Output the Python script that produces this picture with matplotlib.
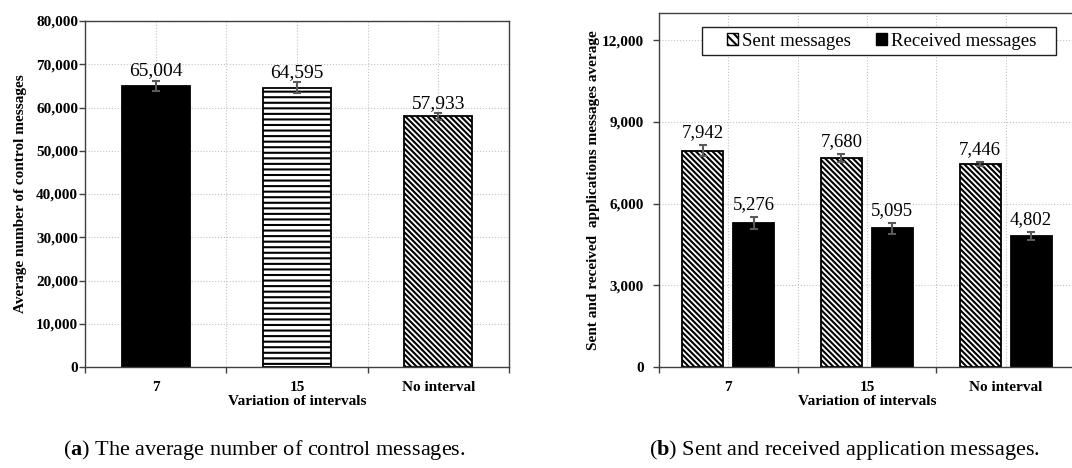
"""Control and application message counts per interval setting, two panels."""

import matplotlib

matplotlib.use("Agg")
import matplotlib.pyplot as plt
from matplotlib.legend_handler import HandlerPatch
from matplotlib.patches import Patch, Rectangle
from matplotlib.ticker import FuncFormatter, MultipleLocator

INTERVALS = ["7", "15", "No interval"]

CONTROL_MEAN = [65004, 64595, 57933]
CONTROL_ERR = [1200, 1200, 800]

SENT_MEAN = [7942, 7680, 7446]
SENT_ERR = [200, 150, 80]
RECEIVED_MEAN = [5276, 5095, 4802]
RECEIVED_ERR = [220, 200, 150]

SERIF = "Liberation Serif"
plt.rcParams["font.family"] = SERIF
plt.rcParams["mathtext.fontset"] = "custom"
plt.rcParams["mathtext.rm"] = SERIF
plt.rcParams["mathtext.bf"] = SERIF + ":bold"
plt.rcParams["hatch.linewidth"] = 1.5

SPINE = "#404040"
ERR_COLOR = "#5a5a5a"
DIAG = "\\" * 6
thousands = FuncFormatter(lambda v, _: f"{v:,.0f}")


def _square_right(legend, orig_handle, xdescent, ydescent, width, height, fontsize):
    # small square key pushed to the right end of the handle slot
    s = 8.0
    return Rectangle((-xdescent + width - s, -ydescent + (height - s) / 2), s, s)


def _style_axes(ax, ymax, ystep, ylabel, ypad):
    n = len(INTERVALS)
    ax.set_xlim(-0.5, n - 0.5)
    ax.set_ylim(0, ymax)
    ax.yaxis.set_major_locator(MultipleLocator(ystep))
    ax.yaxis.set_major_formatter(thousands)
    ax.set_xticks(range(n))
    ax.set_xticklabels(INTERVALS)
    ax.set_xticks([i - 0.5 for i in range(n + 1)], minor=True)
    ax.tick_params(axis="x", which="major", length=0, pad=10)
    ax.tick_params(axis="x", which="minor", length=4, width=1, color=SPINE, direction="out")
    ax.tick_params(axis="y", length=4, width=1, color=SPINE, pad=ypad)
    for lab in ax.get_xticklabels() + ax.get_yticklabels():
        lab.set_fontweight("bold")
        lab.set_fontsize(11)
    ax.grid(True, which="major", axis="both", color="#c4c4c4", linestyle=":", linewidth=0.8)
    ax.grid(True, which="minor", axis="x", color="#c4c4c4", linestyle=":", linewidth=0.8)
    ax.set_axisbelow(True)
    for sp in ax.spines.values():
        sp.set_color(SPINE)
        sp.set_linewidth(1.0)
    ax.set_xlabel("Variation of intervals", fontsize=11, fontweight="bold", labelpad=1)
    ax.set_ylabel(ylabel, fontsize=11, fontweight="bold")


def _label_bars(ax, xs, means, errs, offset, size):
    for x, m, e in zip(xs, means, errs):
        ax.annotate(f"{m:,}", (x, m + e), xytext=(0, offset), textcoords="offset points",
                    ha="center", va="bottom", fontsize=size)


def plot_control(ax):
    xs = list(range(len(INTERVALS)))
    styles = [("black", None), ("white", "---"), ("white", DIAG)]
    for x, m, e, (fc, hatch) in zip(xs, CONTROL_MEAN, CONTROL_ERR, styles):
        ax.bar(x, m, width=0.48, color=fc, hatch=hatch, edgecolor="black", linewidth=1.3, zorder=2)
        ax.errorbar(x, m, yerr=e, fmt="none", ecolor=ERR_COLOR, elinewidth=1.5,
                    capsize=3, capthick=1.5, zorder=3)
    _label_bars(ax, xs, CONTROL_MEAN, CONTROL_ERR, 1, 14)
    _style_axes(ax, 80000, 10000, "Average number of control messages", 1)
    ax.yaxis.set_label_coords(-0.138, 0.5)


def plot_app_messages(ax):
    xs = list(range(len(INTERVALS)))
    w, off = 0.295, 0.184
    sent_x = [x - off for x in xs]
    recv_x = [x + off for x in xs]
    ax.bar(sent_x, SENT_MEAN, width=w, color="white", hatch=DIAG, edgecolor="black",
           linewidth=1.3, zorder=2)
    ax.bar(recv_x, RECEIVED_MEAN, width=w, color="black", edgecolor="black", linewidth=1.3, zorder=2)
    ax.errorbar(sent_x, SENT_MEAN, yerr=SENT_ERR, fmt="none", ecolor=ERR_COLOR,
                elinewidth=1.5, capsize=3, capthick=1.5, zorder=3)
    ax.errorbar(recv_x, RECEIVED_MEAN, yerr=RECEIVED_ERR, fmt="none", ecolor=ERR_COLOR,
                elinewidth=1.5, capsize=3, capthick=1.5, zorder=3)
    _label_bars(ax, sent_x, SENT_MEAN, SENT_ERR, 3, 13.5)
    _label_bars(ax, recv_x, RECEIVED_MEAN, RECEIVED_ERR, 3, 13.5)
    _style_axes(ax, 13000, 3000, "Sent and received  applications messages average", 7)
    ax.yaxis.set_label_coords(-0.141, 0.5)

    handles = [
        Patch(facecolor="white", edgecolor="black", hatch="\\\\\\\\", linewidth=1.0),
        Patch(facecolor="black", edgecolor="black"),
    ]
    square = HandlerPatch(patch_func=_square_right)
    leg = ax.legend(handles, ["Sent messages", "Received messages   "], ncol=2,
                    handler_map={Patch: square},
                    loc="upper left", bbox_to_anchor=(0.103, 0.961), borderaxespad=0,
                    fontsize=13.5, handlelength=1.63, handleheight=0.7, handletextpad=0.2,
                    columnspacing=0.3, borderpad=0.3, fancybox=False, framealpha=1)
    leg.get_frame().set_edgecolor("#202020")
    leg.get_frame().set_linewidth(1.0)


def main():
    fig = plt.figure(figsize=(10.72, 4.68), dpi=100)
    ax_a = fig.add_axes([0.0793, 0.2158, 0.3955, 0.7393])
    ax_b = fig.add_axes([0.6147, 0.2158, 0.3880, 0.7564])
    plot_control(ax_a)
    plot_app_messages(ax_b)

    fig.text(0.247, 0.028, r"($\mathbf{a}$) The average number of control messages.",
             ha="center", va="baseline", fontsize=16)
    fig.text(0.788, 0.028, r"($\mathbf{b}$) Sent and received application messages.",
             ha="center", va="baseline", fontsize=16)

    fig.savefig("out.png", dpi=100)
    plt.close(fig)


if __name__ == "__main__":
    main()
